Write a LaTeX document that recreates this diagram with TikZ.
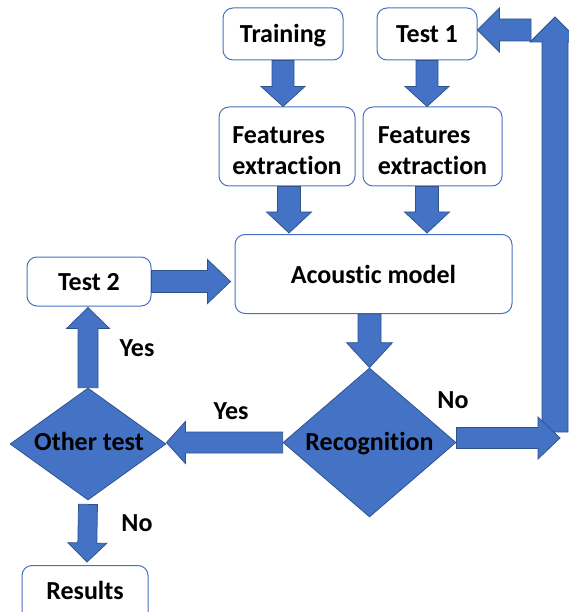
\documentclass[tikz,border=0pt]{standalone}
\usepackage{fontspec}
\setmainfont{Carlito}[Ligatures=NoCommon]
\usetikzlibrary{calc,shapes.geometric}
\definecolor{bfill}{HTML}{4472C4}
\definecolor{bline}{HTML}{2F528F}
\tikzset{
 box/.style={draw=bfill, line width=1pt, fill=white, rounded corners=10pt,
   font=\fontsize{26}{31}\selectfont\bfseries, text=black, inner sep=0pt},
 oneline/.style={text height=18pt, text depth=0pt},
 dia/.style={diamond, draw=bline, fill=bfill, line width=0.75pt, inner sep=0pt},
 lbl/.style={font=\fontsize{26}{31}\selectfont\bfseries, text=black, inner sep=0pt},
 blk/.style={fill=bfill, draw=bline, line width=0.75pt, line join=miter},
}
% from, to, shaft half width, head half width, head length
\newcommand\blockarrow[5]{%
 \coordinate (bA) at (#1);
 \coordinate (bB) at (#2);
 \coordinate (bC) at ($(bB)!#5!(bA)$);
 \draw[blk] ($(bA)!#3!90:(bB)$) -- ($(bC)!#3!-90:(bA)$) -- ($(bC)!#4!-90:(bA)$)
   -- (bB) -- ($(bC)!#4!90:(bA)$) -- ($(bC)!#3!90:(bA)$) -- ($(bA)!#3!-90:(bB)$) -- cycle;
}
\begin{document}
\begin{tikzpicture}[x=1pt,y=-1pt]
\useasboundingbox (0,0) rectangle (569,612);
\clip (0,0) rectangle (569,612);

% boxes
\node[box, oneline, minimum width=120, minimum height=52] (train) at (283,34) {Training};
\node[box, oneline, minimum width=100, minimum height=52] (test1) at (427,34) {Test 1};
\node[box, minimum width=136, minimum height=79,
  label={[lbl, align=left, yshift=-4pt]center:Features\\extraction}] (fe1) at (287,146.5) {};
\node[box, minimum width=139, minimum height=79,
  label={[lbl, align=left, yshift=-4pt]center:Features\\extraction}] (fe2) at (432.5,146.5) {};
\node[box, oneline, minimum width=277, minimum height=79] (ac) at (373.5,274) {Acoustic model};
\node[box, oneline, minimum width=124, minimum height=49] (test2) at (89,281.5) {Test 2};
\node[box, anchor=north, minimum width=126, text height=34pt, text depth=40pt] (results) at (85,565) {Results};

% diamonds
\node[dia, minimum width=173, minimum height=149, label={[lbl, yshift=-1pt]center:Recognition}] (recog) at (369.5,442.5) {};
\node[dia, minimum width=156, minimum height=112, label={[lbl, xshift=1pt, yshift=3pt]center:Other test}] (other) at (88,444) {};

% free ends of the loop
\coordinate (loopR) at (560,438);
\coordinate (loopB) at (555,432);
\coordinate (loopT) at (555,17);
\coordinate (loopTL) at (531,30);

% block arrows
\blockarrow{train.south}{train.south |- fe1.north}{11pt}{22pt}{20pt}
\blockarrow{test1.south}{test1.south |- fe2.north}{11pt}{22pt}{20pt}
\blockarrow{$(fe1.south)+(2,0)$}{$(fe1.south |- ac.north)+(2,-1)$}{11.5pt}{22.5pt}{21pt}
\blockarrow{test1.south |- fe2.south}{$(test1.south |- ac.north)+(0,-1)$}{11.5pt}{22.5pt}{21pt}
\blockarrow{test2.east}{$(test2.east -| ac.west)+(-4,0)$}{11pt}{22pt}{23pt}
\blockarrow{recog.north |- ac.south}{recog.north}{11.5pt}{23pt}{25pt}
\blockarrow{recog.west}{recog.west -| other.east}{10.5pt}{21pt}{19pt}
\blockarrow{loopB}{loopT}{13pt}{25pt}{25pt}
\blockarrow{$(recog.east)+(0,-4.5)$}{loopR}{10.5pt}{21pt}{22pt}
\blockarrow{loopTL}{test1.east |- loopTL}{11pt}{22pt}{22pt}
\blockarrow{other.north}{$(test2.south)+(-1,1)$}{10pt}{21.5pt}{21pt}
\blockarrow{$(other.south)+(0,4)$}{$(results.north)+(2,-3)$}{9.5pt}{19.5pt}{19pt}

% labels
\node[lbl] (yes1) at (137,348) {Yes};
\node[lbl] (yes2) at (231,411) {Yes};
\node[lbl] (no1) at (137,523) {No};
\node[lbl] (no2) at (453,400) {No};
\end{tikzpicture}
\end{document}
